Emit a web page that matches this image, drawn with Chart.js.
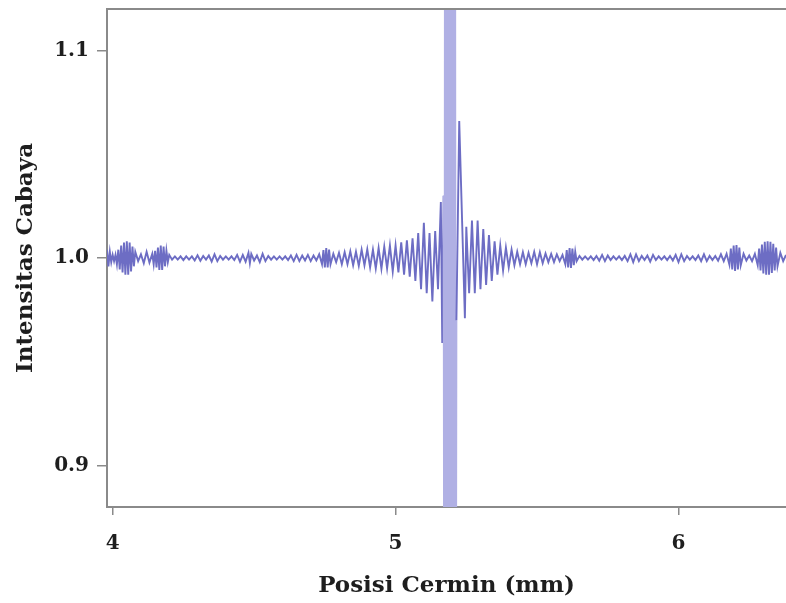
<!DOCTYPE html>
<html>
<head>
<meta charset="utf-8">
<script src="https://cdn.jsdelivr.net/npm/chart.js@4.4.0/dist/chart.umd.min.js"></script>
<style>
  html, body { margin: 0; padding: 0; background: #fff; }
  #wrap { width: 786px; height: 603px; }
</style>
</head>
<body>
<div id="wrap"><canvas id="chart" width="786" height="603"></canvas></div>
<script>
// mirror position (mm), relative light intensity
const leftTail = [
  [3.980, 1.004], [3.985, 0.996], [3.990, 1.003], [3.995, 0.998], [4.000, 1.0015],
  [4.005, 0.9985], [4.010, 1.0015], [4.015, 0.997], [4.020, 1.004], [4.025, 0.9945],
  [4.030, 1.006], [4.035, 0.993], [4.040, 1.0075], [4.045, 0.992], [4.050, 1.008],
  [4.055, 0.992], [4.060, 1.0075], [4.065, 0.9935], [4.070, 1.0055], [4.075, 0.996],
  [4.080, 1.003], [4.09, 0.9985], [4.10, 1.0018], [4.11, 0.9975], [4.12, 1.003],
  [4.13, 0.9978], [4.14, 1.002], [4.145, 0.997], [4.150, 1.0035], [4.155, 0.9955],
  [4.160, 1.005], [4.165, 0.9942], [4.170, 1.006], [4.175, 0.9942], [4.180, 1.0055],
  [4.185, 0.996], [4.190, 1.0035], [4.195, 0.998], [4.20, 1.0015], [4.21, 0.9992],
  [4.22, 1.0008], [4.23, 0.9992], [4.24, 1.0008], [4.25, 0.999], [4.26, 1.0008],
  [4.27, 0.9992], [4.28, 1.0008], [4.29, 0.9988], [4.30, 1.0013], [4.31, 0.9987],
  [4.32, 1.001], [4.33, 0.9992], [4.34, 1.0012], [4.35, 0.9983], [4.36, 1.0018],
  [4.37, 0.9985], [4.38, 1.001], [4.39, 0.9992], [4.40, 1.0008], [4.41, 0.9992],
  [4.42, 1.0008], [4.43, 0.999], [4.44, 1.0015], [4.45, 0.9982], [4.46, 1.0015],
  [4.47, 0.9982], [4.48, 1.0025], [4.485, 0.9975], [4.49, 1.002], [4.50, 0.9988],
  [4.51, 1.0012], [4.52, 0.998], [4.53, 1.002], [4.54, 0.9985], [4.55, 1.001],
  [4.56, 0.9992], [4.57, 1.0008], [4.58, 0.9992], [4.59, 1.0008], [4.60, 0.9992],
  [4.61, 1.0008], [4.62, 0.999], [4.63, 1.0012], [4.64, 0.9985], [4.65, 1.0015],
  [4.66, 0.9985], [4.67, 1.0012], [4.68, 0.9988], [4.69, 1.0015], [4.70, 0.9985],
  [4.71, 1.0012], [4.72, 0.9988], [4.73, 1.0018], [4.740, 0.997], [4.745, 1.0038],
  [4.750, 0.9955], [4.755, 1.0048], [4.760, 0.9955], [4.765, 1.004], [4.770, 0.997],
  [4.78, 1.002], [4.79, 0.998]
];

const leftBurst = [
  [4.80, 1.0025], [4.81, 0.997], [4.82, 1.0028], [4.83, 0.997], [4.84, 1.0032],
  [4.85, 0.9965], [4.86, 1.003], [4.87, 0.9962], [4.88, 1.004], [4.89, 0.9965],
  [4.90, 1.0042], [4.91, 0.9955], [4.92, 1.004], [4.93, 0.995], [4.94, 1.0048],
  [4.95, 0.9948], [4.96, 1.0055], [4.97, 0.995], [4.98, 1.006], [4.99, 0.9935],
  [5.00, 1.006], [5.01, 0.993], [5.02, 1.0075], [5.03, 0.992], [5.04, 1.0085],
  [5.05, 0.991], [5.06, 1.0095], [5.07, 0.989], [5.08, 1.012], [5.09, 0.985],
  [5.10, 1.017], [5.11, 0.983], [5.12, 1.012], [5.13, 0.979], [5.14, 1.013],
  [5.15, 0.985]
];

// zero path difference: the fringes run far past both axis limits
const centralPeak = [
  [5.160, 1.027], [5.165, 0.959], [5.170, 1.030], [5.1725, 0.70], [5.175, 1.30],
  [5.1775, 0.70], [5.180, 1.30], [5.1825, 0.70], [5.185, 1.30], [5.1875, 0.70],
  [5.190, 1.30], [5.1925, 0.70], [5.195, 1.30], [5.1975, 0.70], [5.200, 1.30],
  [5.2025, 0.70], [5.205, 1.30], [5.2075, 0.70], [5.210, 1.30], [5.2125, 0.70],
  [5.215, 0.97], [5.225, 1.066], [5.245, 0.971], [5.250, 1.015]
];

const rightBurst = [
  [5.26, 0.983], [5.27, 1.018], [5.28, 0.983], [5.29, 1.018], [5.30, 0.985],
  [5.31, 1.014], [5.32, 0.987], [5.33, 1.011], [5.34, 0.989], [5.35, 1.008],
  [5.36, 0.992], [5.37, 1.006], [5.38, 0.994], [5.39, 1.005], [5.40, 0.9955],
  [5.41, 1.004], [5.42, 0.9965], [5.43, 1.003], [5.44, 0.997], [5.45, 1.0028],
  [5.46, 0.997], [5.47, 1.0025], [5.48, 0.9975], [5.49, 1.003], [5.50, 0.997],
  [5.51, 1.0028]
];

const rightTail = [
  [5.52, 0.9975], [5.53, 1.0022], [5.54, 0.998], [5.55, 1.002], [5.56, 0.998],
  [5.57, 1.0018], [5.58, 0.9985], [5.59, 1.0015], [5.600, 0.997], [5.605, 1.0038],
  [5.610, 0.9955], [5.615, 1.0048], [5.620, 0.9952], [5.625, 1.0045], [5.630, 0.9965],
  [5.635, 1.003], [5.64, 0.9985], [5.65, 1.001], [5.66, 0.9992], [5.67, 1.0008],
  [5.68, 0.9992], [5.69, 1.0008], [5.70, 0.999], [5.71, 1.001], [5.72, 0.9987],
  [5.73, 1.0015], [5.74, 0.9985], [5.75, 1.0012], [5.76, 0.999], [5.77, 1.0008],
  [5.78, 0.9992], [5.79, 1.0008], [5.80, 0.999], [5.81, 1.001], [5.82, 0.9985],
  [5.83, 1.0018], [5.84, 0.998], [5.85, 1.0018], [5.86, 0.9985], [5.87, 1.001],
  [5.88, 0.999], [5.89, 1.0012], [5.90, 0.9982], [5.91, 1.0015], [5.92, 0.999],
  [5.93, 1.0008], [5.94, 0.9992], [5.95, 1.0008], [5.96, 0.999], [5.97, 1.001],
  [5.98, 0.9988], [5.99, 1.0015], [6.00, 0.998], [6.01, 1.0018], [6.02, 0.9985],
  [6.03, 1.001], [6.04, 0.9992], [6.05, 1.0008], [6.06, 0.999], [6.07, 1.0012],
  [6.08, 0.9985], [6.09, 1.0018], [6.10, 0.9985], [6.11, 1.001], [6.12, 0.999],
  [6.13, 1.001], [6.14, 0.9987], [6.15, 1.0018], [6.16, 0.9985], [6.170, 1.002],
  [6.180, 0.9968], [6.185, 1.0045], [6.190, 0.9945], [6.195, 1.006], [6.200, 0.9938],
  [6.205, 1.0062], [6.210, 0.9945], [6.215, 1.005], [6.220, 0.9965], [6.23, 1.002],
  [6.24, 0.9988], [6.25, 1.0012], [6.26, 0.9985], [6.27, 1.002], [6.280, 0.9965],
  [6.285, 1.0045], [6.290, 0.994], [6.295, 1.0065], [6.300, 0.9925], [6.305, 1.0078],
  [6.310, 0.992], [6.315, 1.008], [6.320, 0.992], [6.325, 1.0078], [6.330, 0.9928],
  [6.335, 1.0068], [6.340, 0.994], [6.345, 1.005], [6.350, 0.996], [6.36, 1.0025],
  [6.37, 0.9985], [6.38, 1.0015]
];

const xTickValues = [4, 5, 6];
const yTickValues = [0.9, 1.0, 1.1];

const interferogram = [...leftTail, ...leftBurst, ...centralPeak, ...rightBurst, ...rightTail];

const lineColor = '#6d6dc4';
const peakColor = '#b0b0e4';
const axisColor = '#8a8a8a';
const textColor = '#1e1e1e';
const serif = 'DejaVu Serif';

// the plot has a frame line along the top edge as well
const topBorder = {
  id: 'topBorder',
  afterDraw(chart) {
    const { ctx, chartArea } = chart;
    ctx.save();
    ctx.strokeStyle = axisColor;
    ctx.lineWidth = 2;
    ctx.beginPath();
    ctx.moveTo(chartArea.left, chartArea.top);
    ctx.lineTo(chartArea.right, chartArea.top);
    ctx.stroke();
    ctx.restore();
  }
};

new Chart(document.getElementById('chart'), {
  type: 'line',
  data: {
    datasets: [{
      data: interferogram,
      borderColor: lineColor,
      borderWidth: 1.9,
      pointRadius: 0,
      tension: 0,
      segment: {
        // the tall fringes at the centre are drawn in a paler shade
        borderColor: c => Math.abs(c.p0.parsed.y - c.p1.parsed.y) > 0.2 ? peakColor : undefined
      }
    }]
  },
  options: {
    responsive: false,
    animation: false,
    layout: { padding: { top: 9, right: 0, bottom: 0, left: 0 } },
    plugins: {
      legend: { display: false },
      tooltip: { enabled: false }
    },
    scales: {
      x: {
        type: 'linear',
        min: 3.98,
        max: 6.38,
        afterFit: s => { s.height = 96; s.paddingLeft = 0; s.paddingRight = 0; },
        afterBuildTicks: s => { s.ticks = xTickValues.map(v => ({ value: v })); },
        grid: { drawOnChartArea: false, tickLength: 8, color: axisColor, lineWidth: 1.5 },
        border: { display: true, color: axisColor, width: 2 },
        ticks: {
          padding: 17,
          color: textColor,
          font: { family: serif, size: 20, weight: 'bold' },
          callback: v => String(v)
        },
        title: {
          display: true,
          text: 'Posisi Cermin (mm)',
          color: textColor,
          font: { family: serif, size: 23, weight: 'bold' },
          padding: { top: 0, bottom: 3 }
        }
      },
      y: {
        min: 0.88,
        max: 1.12,
        afterFit: s => { s.width = 107; s.paddingTop = 0; s.paddingBottom = 0; },
        afterBuildTicks: s => { s.ticks = yTickValues.map(v => ({ value: v })); },
        grid: { drawOnChartArea: false, tickLength: 10, color: axisColor, lineWidth: 1.5 },
        border: { display: true, color: axisColor, width: 2 },
        ticks: {
          padding: 8,
          color: textColor,
          font: { family: serif, size: 20, weight: 'bold' },
          callback: v => v.toFixed(1)
        },
        title: {
          display: true,
          text: 'Intensitas Cabaya',
          color: textColor,
          font: { family: serif, size: 23, weight: 'bold' },
          padding: { top: 12, bottom: 0 }
        }
      }
    }
  },
  plugins: [topBorder]
});
</script>
</body>
</html>
